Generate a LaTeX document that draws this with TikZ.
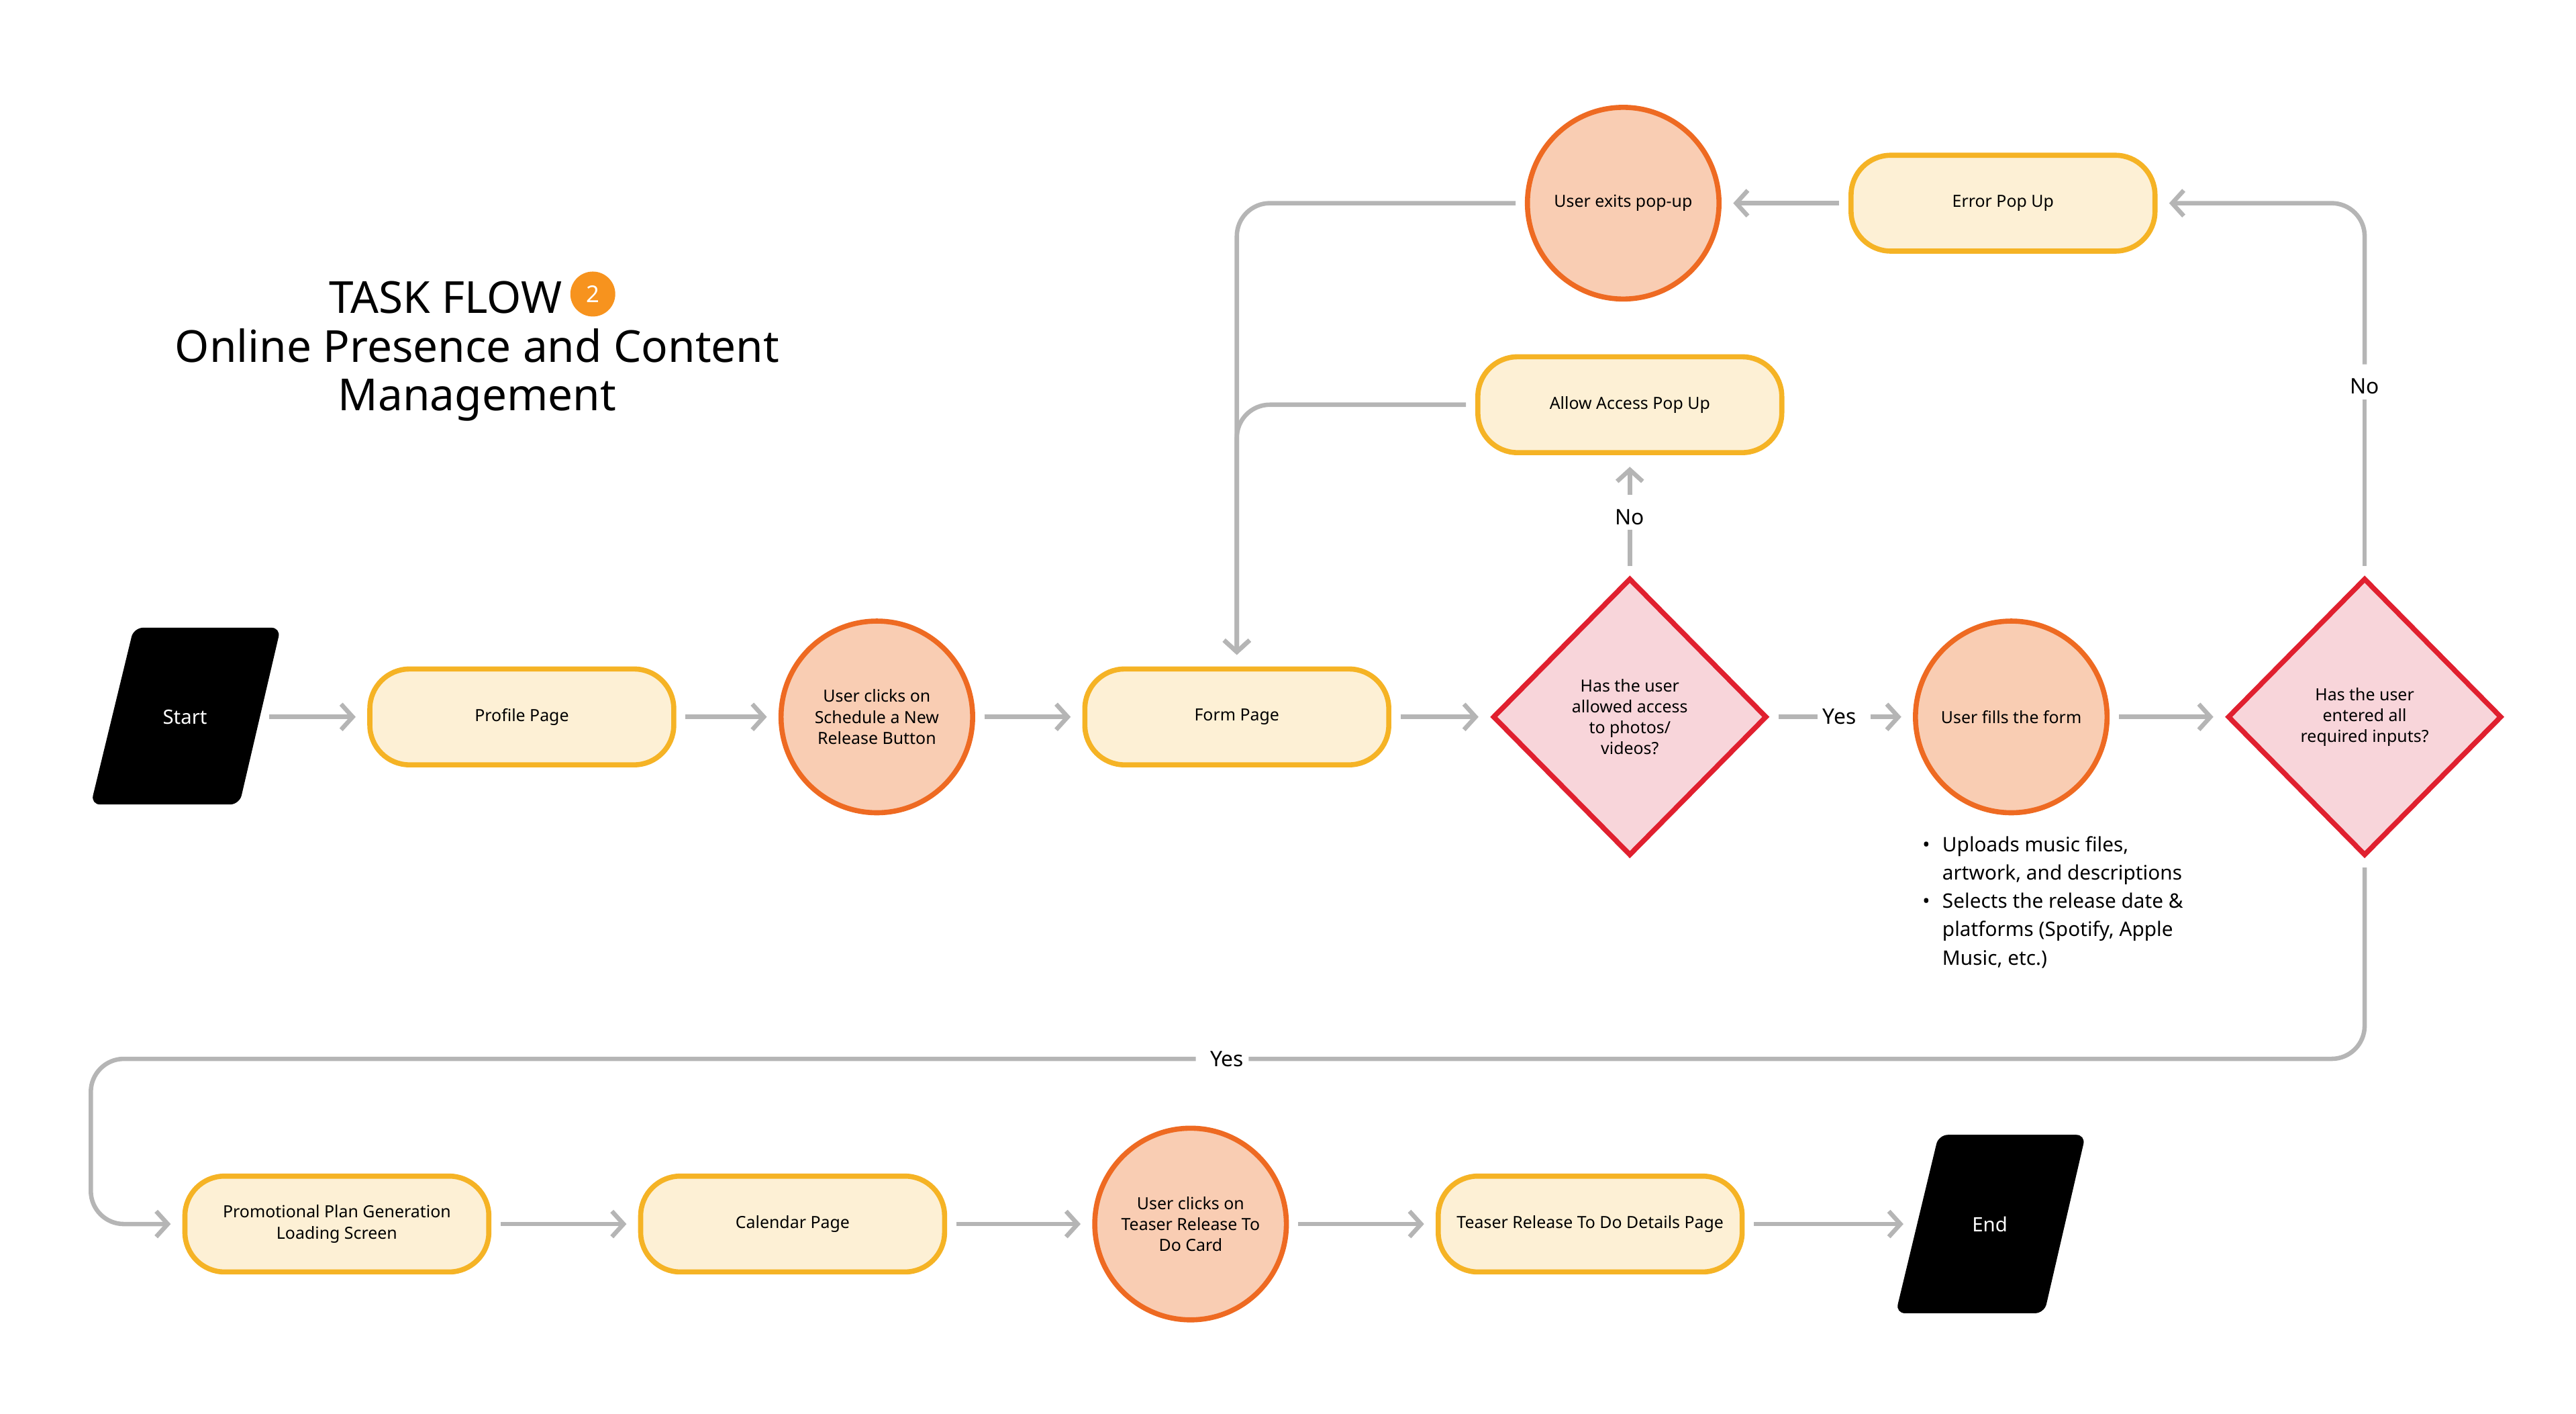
\documentclass[tikz,border=0pt]{standalone}
\usepackage{fontspec}
\setmainfont{Noto Sans}
\usetikzlibrary{shapes.geometric,arrows.meta}
\definecolor{boxfill}{HTML}{FDF0D5}
\definecolor{boxline}{HTML}{F5B325}
\definecolor{cirfill}{HTML}{F9CDB3}
\definecolor{cirline}{HTML}{EE6A22}
\definecolor{dfill}{HTML}{F8D5DA}
\definecolor{dline}{HTML}{E0202F}
\definecolor{conn}{HTML}{B5B5B5}
\definecolor{term}{HTML}{1F1F1F}
\definecolor{badge}{HTML}{F7931E}
\tikzset{
  lbl/.style={font=\fontsize{7.2}{9}\selectfont, align=center},
  box/.style={lbl, draw=boxline, fill=boxfill, line width=2.2pt, rounded corners=0.6cm, minimum width=4.6cm, minimum height=1.45cm},
  cir/.style={lbl, circle, draw=cirline, fill=cirfill, line width=2.2pt, minimum size=2.9cm, inner sep=0pt},
  dia/.style={lbl, diamond, draw=dline, fill=dfill, line width=2.2pt, minimum width=4.15cm, minimum height=4.2cm, inner sep=0pt},
  term/.style={font=\fontsize{8.5}{10}\selectfont, text=white, minimum width=2.25cm, minimum height=2.6cm},
  lab/.style={font=\fontsize{9.2}{11}\selectfont, inner sep=2pt},
  line/.style={draw=conn, line width=1.9pt, rounded corners=0.5cm},
  arrow/.style={line, -{Straight Barb[length=5pt,width=11pt,line width=1.9pt]}, shorten >=5pt, shorten <=4pt},
}
\begin{document}
\begin{tikzpicture}[x=0.025cm,y=-0.025cm]
\useasboundingbox (0,0) rectangle (1560,856);
% title
\node[font=\bfseries\fontsize{19}{22}\selectfont] (t1) at (270,180) {TASK FLOW};
\node[circle, fill=badge, minimum size=0.68cm, inner sep=0pt, text=white, font=\fontsize{10}{12}\selectfont] (bd) at (359,178) {2};
\node[font=\bfseries\fontsize{19}{22}\selectfont, align=center] (t2) at (289,227) {Online Presence and Content\\[-1pt]Management};
% terminals
\fill[term, rounded corners=4pt] (81,380) -- (170,380) -- (145,487) -- (55,487) -- cycle;
\node[term] (start) at (112,434) {Start};
\fill[term, rounded corners=4pt] (1174,687) -- (1263,687) -- (1238,795) -- (1148,795) -- cycle;
\node[term] (end) at (1205,741) {End};
% top row
\node[box] (profile) at (316,434) {Profile Page};
\node[cir] (c1) at (531,434) {User clicks on\\Schedule a New\\Release Button};
\node[box] (form) at (749,434) {Form Page};
\node[dia] (d1) at (987,434) {Has the user\\allowed access\\to photos/\\videos?};
\node[cir] (c2) at (1218,434) {User fills the form};
\node[dia] (d2) at (1432,434) {Has the user\\entered all\\required inputs?};
\node[box] (allow) at (987,245) {Allow Access Pop Up};
\node[box] (err) at (1213,123) {Error Pop Up};
\node[cir] (exit) at (983,123) {User exits pop-up};
% bottom row
\node[box] (promo) at (204,741) {Promotional Plan Generation\\Loading Screen};
\node[box] (cal) at (480,741) {Calendar Page};
\node[cir] (c3) at (721,741) {User clicks on\\Teaser Release To\\Do Card};
\node[box] (teaser) at (963,741) {Teaser Release To Do Details Page};
% labels
\node[lab] (yes1) at (1114,434) {Yes};
\node[lab] (no1) at (987,313) {No};
\node[lab] (no2) at (1432,234) {No};
\node[lab] (yes2) at (743,641) {Yes};
% bullets
\node[anchor=north west, align=left, font=\fontsize{8.6}{12.2}\selectfont, inner sep=0pt] (notes) at (1164,506)
 {\makebox[0.3cm][l]{\textbullet}Uploads music files,\\
  \makebox[0.3cm][l]{}artwork, and descriptions\\
  \makebox[0.3cm][l]{\textbullet}Selects the release date \&\\
  \makebox[0.3cm][l]{}platforms (Spotify, Apple\\
  \makebox[0.3cm][l]{}Music, etc.)};
% connectors
\coordinate (bl) at (55,641);
\draw[arrow] (start) -- (profile);
\draw[arrow] (profile) -- (c1);
\draw[arrow] (c1) -- (form);
\draw[arrow] (form) -- (d1);
\draw[line, shorten <=4pt] (d1) -- (yes1);
\draw[arrow] (yes1) -- (c2);
\draw[arrow] (c2) -- (d2);
\draw[line, shorten <=4pt] (d1.north) -- (no1);
\draw[arrow] (no1) -- (allow);
\draw[arrow] (allow.west) -| (form.north);
\draw[arrow] (exit.west) -| (form.north);
\draw[line, shorten <=4pt] (d2.north) -- (no2);
\draw[arrow] (no2.north) |- (err.east);
\draw[arrow] (err) -- (exit);
\draw[line, shorten <=4pt] (d2.south) |- (yes2.east);
\draw[arrow] (yes2.west) -- (bl) |- (promo.west);
\draw[arrow] (promo) -- (cal);
\draw[arrow] (cal) -- (c3);
\draw[arrow] (c3) -- (teaser);
\draw[arrow] (teaser) -- (end);
\end{tikzpicture}
\end{document}
